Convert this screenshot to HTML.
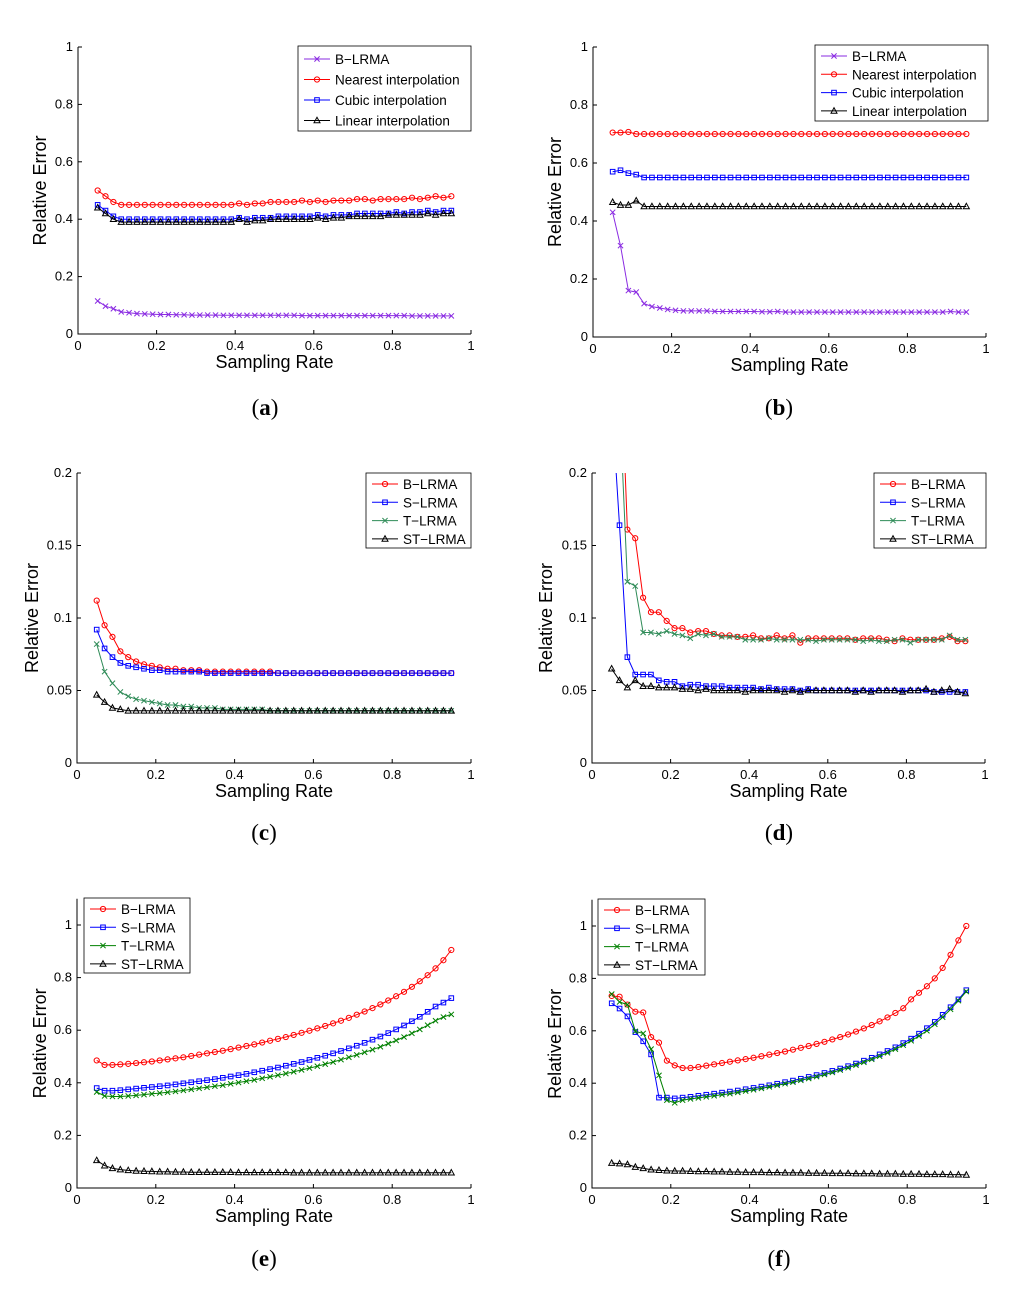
<!DOCTYPE html>
<html><head><meta charset="utf-8"><style>
html,body{margin:0;padding:0;background:#fff;}
svg{display:block;font-family:"Liberation Sans",sans-serif;}
</style></head>
<body>
<svg id="fig" width="1024" height="1290" viewBox="0 0 1024 1290" xmlns="http://www.w3.org/2000/svg"></svg>
<script>
const samplingRates=[0.05,0.07,0.09,0.11,0.13,0.15,0.17,0.19,0.21,0.23,0.25,0.27,0.29,0.31,0.33,0.35,0.37,0.39,0.41,0.43,0.45,0.47,0.49,0.51,0.53,0.55,0.57,0.59,0.61,0.63,0.65,0.67,0.69,0.71,0.73,0.75,0.77,0.79,0.81,0.83,0.85,0.87,0.89,0.91,0.93,0.95];
const xTicks=[0,0.2,0.4,0.6,0.8,1];
const xTickLabels=["0","0.2","0.4","0.6","0.8","1"];
const yTicksA=[0,0.2,0.4,0.6,0.8,1];
const yTickLabelsA=["0","0.2","0.4","0.6","0.8","1"];
const yTicksC=[0,0.05,0.1,0.15,0.2];
const yTickLabelsC=["0","0.05","0.1","0.15","0.2"];

const aB=[.115,.097,.088,.077,.074,.071,.07,.069,.068,.068,.067,.067,.066,.066,.066,.066,.065,.065,.065,.065,.065,.065,.065,.065,.065,.065,.064,.064,.064,.064,.064,.064,.064,.064,.064,.064,.064,.064,.064,.064,.063,.063,.063,.063,.063,.063];
const aNear=[.50,.48,.46,.45,.45,.45,.45,.45,.45,.45,.45,.45,.45,.45,.45,.45,.45,.45,.455,.45,.455,.455,.46,.46,.46,.46,.465,.46,.465,.46,.465,.465,.465,.47,.47,.465,.47,.47,.47,.47,.475,.47,.475,.48,.475,.48];
const aCub=[.45,.43,.41,.40,.40,.40,.40,.40,.40,.40,.40,.40,.40,.40,.40,.40,.40,.40,.405,.40,.405,.405,.405,.41,.41,.41,.41,.41,.415,.41,.415,.415,.415,.42,.42,.42,.42,.42,.425,.42,.425,.425,.43,.425,.43,.43];
const aLin=[.44,.42,.40,.39,.39,.39,.39,.39,.39,.39,.39,.39,.39,.39,.39,.39,.39,.39,.40,.39,.395,.395,.40,.40,.40,.40,.40,.40,.405,.40,.405,.405,.41,.41,.41,.41,.41,.415,.415,.415,.415,.415,.42,.415,.42,.42];

const bB=[.43,.315,.16,.155,.115,.105,.10,.095,.092,.09,.09,.09,.09,.088,.088,.088,.088,.088,.088,.087,.087,.088,.086,.086,.086,.086,.086,.086,.086,.086,.086,.086,.086,.086,.086,.086,.086,.086,.086,.086,.086,.086,.086,.088,.086,.086];
const bNear=[.705,.705,.707,.70,.70,.70,.70,.70,.70,.70,.70,.70,.70,.70,.70,.70,.70,.70,.70,.70,.70,.70,.70,.70,.70,.70,.70,.70,.70,.70,.70,.70,.70,.70,.70,.70,.70,.70,.70,.70,.70,.70,.70,.70,.70,.70];
const bCub=[.57,.575,.565,.56,.55,.55,.55,.55,.55,.55,.55,.55,.55,.55,.55,.55,.55,.55,.55,.55,.55,.55,.55,.55,.55,.55,.55,.55,.55,.55,.55,.55,.55,.55,.55,.55,.55,.55,.55,.55,.55,.55,.55,.55,.55,.55];
const bLin=[.465,.455,.455,.47,.45,.45,.45,.45,.45,.45,.45,.45,.45,.45,.45,.45,.45,.45,.45,.45,.45,.45,.45,.45,.45,.45,.45,.45,.45,.45,.45,.45,.45,.45,.45,.45,.45,.45,.45,.45,.45,.45,.45,.45,.45,.45];

const cB=[.112,.095,.087,.077,.073,.07,.068,.067,.066,.065,.065,.064,.064,.064,.063,.063,.063,.063,.063,.063,.063,.063,.063,.062,.062,.062,.062,.062,.062,.062,.062,.062,.062,.062,.062,.062,.062,.062,.062,.062,.062,.062,.062,.062,.062,.062];
const cS=[.092,.079,.073,.069,.067,.066,.065,.064,.064,.063,.063,.063,.063,.063,.062,.062,.062,.062,.062,.062,.062,.062,.062,.062,.062,.062,.062,.062,.062,.062,.062,.062,.062,.062,.062,.062,.062,.062,.062,.062,.062,.062,.062,.062,.062,.062];
const cT=[.082,.063,.055,.049,.046,.044,.043,.042,.041,.040,.040,.039,.039,.038,.038,.038,.037,.037,.037,.037,.037,.037,.036,.036,.036,.036,.036,.036,.036,.036,.036,.036,.036,.036,.036,.036,.036,.036,.036,.036,.036,.036,.036,.036,.036,.036];
const cST=[.047,.042,.038,.037,.036,.036,.036,.036,.036,.036,.036,.036,.036,.036,.036,.036,.036,.036,.036,.036,.036,.036,.036,.036,.036,.036,.036,.036,.036,.036,.036,.036,.036,.036,.036,.036,.036,.036,.036,.036,.036,.036,.036,.036,.036,.036];

const dB=[.4,.3,.161,.155,.114,.104,.104,.098,.093,.093,.090,.091,.091,.089,.088,.088,.087,.087,.088,.086,.086,.088,.086,.088,.083,.086,.086,.086,.086,.086,.086,.085,.086,.086,.086,.085,.084,.086,.085,.085,.085,.085,.086,.087,.084,.084];
const dS=[.25,.164,.073,.061,.061,.061,.057,.056,.056,.053,.054,.054,.053,.053,.053,.052,.052,.052,.052,.051,.052,.051,.051,.051,.050,.051,.050,.050,.050,.050,.050,.050,.050,.050,.050,.050,.050,.050,.050,.050,.050,.049,.049,.049,.049,.049];
const dT=[.35,.25,.125,.122,.090,.090,.089,.091,.089,.088,.086,.089,.088,.089,.087,.087,.087,.085,.085,.085,.086,.085,.085,.085,.085,.085,.084,.085,.085,.085,.085,.085,.084,.085,.084,.084,.085,.085,.083,.085,.085,.085,.085,.088,.085,.085];
const dST=[.065,.057,.052,.057,.053,.053,.052,.052,.052,.051,.051,.050,.051,.050,.050,.050,.050,.049,.050,.050,.050,.050,.049,.050,.049,.050,.050,.050,.050,.050,.050,.049,.050,.049,.050,.050,.050,.049,.050,.050,.051,.049,.050,.051,.049,.048];

const eB=[.485,.468,.468,.47,.472,.475,.478,.481,.485,.489,.493,.497,.502,.507,.512,.517,.522,.528,.534,.540,.546,.553,.560,.567,.574,.582,.590,.598,.607,.616,.626,.636,.647,.659,.671,.684,.698,.713,.729,.746,.765,.786,.809,.835,.866,.905];
const eS=[.38,.37,.37,.372,.375,.378,.381,.384,.387,.390,.394,.398,.402,.406,.41,.414,.419,.424,.429,.434,.44,.446,.452,.458,.465,.472,.479,.487,.495,.503,.512,.521,.531,.541,.552,.564,.576,.589,.603,.618,.634,.651,.67,.69,.705,.722];
const eT=[.365,.35,.348,.348,.35,.352,.355,.358,.361,.364,.367,.371,.375,.379,.383,.387,.391,.396,.401,.406,.411,.417,.423,.429,.435,.442,.449,.456,.463,.471,.479,.488,.497,.506,.516,.526,.537,.549,.561,.574,.588,.603,.619,.636,.65,.66];
const eST=[.105,.085,.075,.07,.067,.065,.064,.063,.062,.062,.061,.061,.06,.06,.06,.06,.06,.06,.059,.059,.059,.059,.059,.059,.059,.058,.058,.058,.058,.058,.058,.058,.058,.058,.058,.058,.058,.058,.058,.058,.058,.058,.058,.058,.058,.058];

const fB=[.733,.73,.70,.673,.67,.576,.555,.486,.468,.458,.458,.462,.467,.472,.477,.482,.487,.492,.497,.503,.509,.515,.521,.528,.535,.542,.550,.558,.567,.576,.586,.597,.609,.622,.636,.651,.668,.686,.72,.745,.77,.80,.84,.89,.945,1.0];
const fS=[.705,.685,.655,.595,.56,.51,.345,.345,.342,.345,.348,.352,.356,.36,.364,.368,.372,.377,.382,.387,.392,.398,.404,.41,.417,.424,.431,.439,.447,.456,.465,.475,.486,.497,.51,.523,.537,.553,.57,.589,.61,.634,.661,.69,.72,.755];
const fT=[.74,.71,.70,.598,.59,.53,.43,.335,.325,.335,.34,.344,.348,.352,.356,.36,.365,.37,.375,.38,.386,.392,.398,.404,.411,.418,.425,.433,.441,.45,.459,.469,.48,.491,.503,.516,.53,.545,.562,.58,.6,.625,.652,.682,.715,.75];
const fST=[.095,.093,.09,.08,.075,.07,.068,.066,.065,.065,.064,.063,.063,.062,.062,.061,.061,.06,.06,.06,.059,.059,.058,.058,.058,.057,.057,.057,.056,.056,.056,.055,.055,.055,.054,.054,.054,.053,.053,.053,.052,.052,.052,.051,.051,.05];

const NS="http://www.w3.org/2000/svg";
const svg=document.getElementById('fig');
function mk(tag,attrs,parent){const e=document.createElementNS(NS,tag);for(const k in attrs)e.setAttribute(k,attrs[k]);(parent||svg).appendChild(e);return e;}

function marker(g,type,x,y,color){
  let m;
  if(type==='o'){m=mk('circle',{cx:x,cy:y,r:2.6,fill:'none',stroke:color,'stroke-width':1},g);}
  else if(type==='s'){m=mk('rect',{x:x-2.3,y:y-2.3,width:4.6,height:4.6,fill:'none',stroke:color,'stroke-width':1},g);}
  else if(type==='^'){m=mk('polygon',{points:`${x},${y-3.2} ${x-3},${y+2.3} ${x+3},${y+2.3}`,fill:'none',stroke:color,'stroke-width':1},g);}
  else {m=mk('path',{d:`M${x-2.6},${y-2.6}L${x+2.6},${y+2.6}M${x-2.6},${y+2.6}L${x+2.6},${y-2.6}`,stroke:color,'stroke-width':1},g);}
  
  
}

let clipId=0;
function panel(p){
  const g=mk('g',{});
  
  
  const sx=v=>p.x0+(p.x1-p.x0)*v;
  const sy=v=>p.yb-(p.yb-p.yt)*(v/p.ymax);
  const top=sy(p.ytop);
  // axes
  const ax=mk('path',{d:`M${p.x0},${top}L${p.x0},${p.yb}L${p.x1},${p.yb}`,fill:'none',stroke:'#000','stroke-width':1},g);
  
  
  xTicks.forEach((t,i)=>{
    const x=sx(t);
    mk('line',{x1:x,y1:p.yb,x2:x,y2:p.yb-4,stroke:'#000','stroke-width':1},g);
    const tx=mk('text',{x:x,y:p.yb+16,'font-size':13,'text-anchor':'middle'},g);
    tx.textContent=xTickLabels[i];
    
    
  });
  p.yticks.forEach((t,i)=>{
    const y=sy(t);
    mk('line',{x1:p.x0,y1:y,x2:p.x0+4,y2:y,stroke:'#000','stroke-width':1},g);
    const tx=mk('text',{x:p.x0-5,y:y+4,'font-size':13,'text-anchor':'end'},g);
    tx.textContent=p.ylabels[i];
    
    
  });
  const xt=mk('text',{x:(p.x0+p.x1)/2,y:p.yb+34,'font-size':18,'text-anchor':'middle'},g);
  xt.textContent='Sampling Rate';
  
  
  const ymid=(top+p.yb)/2;
  const yt=mk('text',{x:p.ytx,y:ymid,'font-size':18,'text-anchor':'middle',transform:`rotate(-90 ${p.ytx} ${ymid})`},g);
  yt.textContent='Relative Error';
  
  
  const pl=mk('text',{x:p.lx,y:p.ly,'font-size':23,'text-anchor':'middle','font-family':'Liberation Serif, serif'},g);
  pl.innerHTML='(<tspan font-weight="bold">'+p.id+'</tspan>)';
  
  
  // clip
  const cid='clip'+(clipId++);
  const cp=mk('clipPath',{id:cid},g);
  mk('rect',{x:p.x0-5,y:top,width:p.x1-p.x0+10,height:p.yb-top+5},cp);
  const dg=mk('g',{'clip-path':`url(#${cid})`},g);
  p.series.forEach(s=>{
    const sg=mk('g',{},dg);
    
    
    const pts=s.data.map((v,i)=>sx(samplingRates[i]).toFixed(1)+','+sy(v).toFixed(1)).join(' ');
    mk('polyline',{points:pts,fill:'none',stroke:s.color,'stroke-width':1},sg);
    s.data.forEach((v,i)=>marker(sg,s.m,sx(samplingRates[i]),sy(v),s.color));
  });
  // legend
  const L=p.leg;
  const lg=mk('g',{},g);
  
  
  mk('rect',{x:L.x,y:L.y,width:L.w,height:L.h,fill:'#fff',stroke:'#000','stroke-width':0.8},lg);
  p.series.forEach((s,i)=>{
    const y=L.y+L.first+i*L.dy;
    const eg=mk('g',{},lg);
    
    
    mk('line',{x1:L.x+6,y1:y,x2:L.x+32,y2:y,stroke:s.color,'stroke-width':1},eg);
    marker(eg,s.m,L.x+19,y,s.color);
    const t=mk('text',{x:L.x+37,y:y+5,'font-size':13.5},eg);
    t.textContent=s.name;
  });
}

const RED='#ff0000',BLUE='#0000ff',BLK='#000000',PUR='#8a2be2',SEA='#2e8b57',GRN='#008000';
panel({id:'a',x0:78,x1:471,yt:47,yb:334,ymax:1,ytop:1,yticks:yTicksA,ylabels:yTickLabelsA,ytx:46,lx:265,ly:415,
  leg:{x:298,y:46,w:173,h:85,first:13,dy:20.5},
  series:[{name:'B\u2212LRMA',data:aB,color:PUR,m:'x'},{name:'Nearest interpolation',data:aNear,color:RED,m:'o'},{name:'Cubic interpolation',data:aCub,color:BLUE,m:'s'},{name:'Linear interpolation',data:aLin,color:BLK,m:'^'}]});
panel({id:'b',x0:593,x1:986,yt:47,yb:337,ymax:1,ytop:1,yticks:yTicksA,ylabels:yTickLabelsA,ytx:561,lx:779,ly:415,
  leg:{x:815,y:45,w:173,h:76,first:11,dy:18.3},
  series:[{name:'B\u2212LRMA',data:bB,color:PUR,m:'x'},{name:'Nearest interpolation',data:bNear,color:RED,m:'o'},{name:'Cubic interpolation',data:bCub,color:BLUE,m:'s'},{name:'Linear interpolation',data:bLin,color:BLK,m:'^'}]});
panel({id:'c',x0:77,x1:471,yt:473,yb:763,ymax:0.2,ytop:0.2,yticks:yTicksC,ylabels:yTickLabelsC,ytx:38,lx:264,ly:840,
  leg:{x:366,y:473,w:105,h:75,first:11,dy:18.3},
  series:[{name:'B\u2212LRMA',data:cB,color:RED,m:'o'},{name:'S\u2212LRMA',data:cS,color:BLUE,m:'s'},{name:'T\u2212LRMA',data:cT,color:SEA,m:'x'},{name:'ST\u2212LRMA',data:cST,color:BLK,m:'^'}]});
panel({id:'d',x0:592,x1:985,yt:473,yb:763,ymax:0.2,ytop:0.2,yticks:yTicksC,ylabels:yTickLabelsC,ytx:552,lx:779,ly:840,
  leg:{x:874,y:473,w:112,h:75,first:11,dy:18.3},
  series:[{name:'B\u2212LRMA',data:dB,color:RED,m:'o'},{name:'S\u2212LRMA',data:dS,color:BLUE,m:'s'},{name:'T\u2212LRMA',data:dT,color:SEA,m:'x'},{name:'ST\u2212LRMA',data:dST,color:BLK,m:'^'}]});
panel({id:'e',x0:77,x1:471,yt:925,yb:1188,ymax:1,ytop:1.1,yticks:yTicksA,ylabels:yTickLabelsA,ytx:46,lx:264,ly:1266,
  leg:{x:84,y:898,w:106,h:75,first:11,dy:18.3},
  series:[{name:'B\u2212LRMA',data:eB,color:RED,m:'o'},{name:'S\u2212LRMA',data:eS,color:BLUE,m:'s'},{name:'T\u2212LRMA',data:eT,color:GRN,m:'x'},{name:'ST\u2212LRMA',data:eST,color:BLK,m:'^'}]});
panel({id:'f',x0:592,x1:986,yt:926,yb:1188,ymax:1,ytop:1.1,yticks:yTicksA,ylabels:yTickLabelsA,ytx:561,lx:779,ly:1266,
  leg:{x:598,y:899,w:107,h:76,first:11,dy:18.3},
  series:[{name:'B\u2212LRMA',data:fB,color:RED,m:'o'},{name:'S\u2212LRMA',data:fS,color:BLUE,m:'s'},{name:'T\u2212LRMA',data:fT,color:GRN,m:'x'},{name:'ST\u2212LRMA',data:fST,color:BLK,m:'^'}]});
</script>
</body></html>
